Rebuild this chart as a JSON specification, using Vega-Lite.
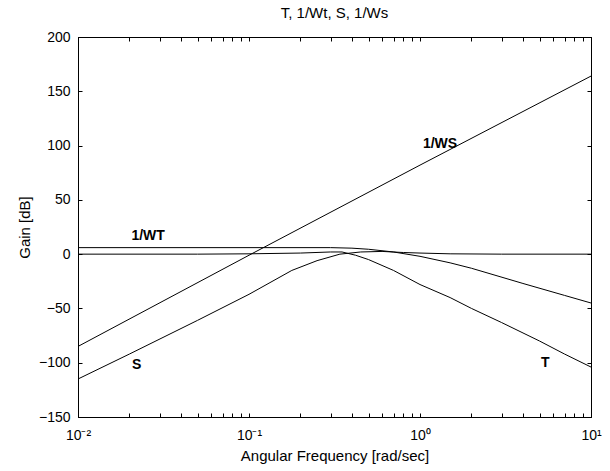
{
  "$schema": "https://vega.github.io/schema/vega-lite/v6.json",
  "width": 513,
  "height": 380,
  "autosize": {"type": "none"},
  "padding": {"left": 78, "top": 37, "right": 19, "bottom": 54},
  "background": "white",
  "config": {
    "font": "Liberation Sans",
    "view": {"stroke": "black", "strokeWidth": 1},
    "axis": {"labelFont": "Liberation Sans", "titleFont": "Liberation Sans", "labelColor": "black", "titleColor": "black", "domainColor": "black", "tickColor": "black", "grid": false, "labelFontSize": 14, "titleFontSize": 15, "titleFontWeight": "normal"}
  },
  "title": {"text": "T, 1/Wt, S, 1/Ws", "fontSize": 15, "fontWeight": "normal", "offset": 9, "anchor": "middle", "color": "black", "font": "Liberation Sans"},
  "datasets": {
    "curves": [
      {"series": "1/WS", "w": 0.01, "gain": -85},
      {"series": "1/WS", "w": 0.1, "gain": -1},
      {"series": "1/WS", "w": 1, "gain": 82},
      {"series": "1/WS", "w": 10, "gain": 164},

      {"series": "1/WT", "w": 0.01, "gain": 6},
      {"series": "1/WT", "w": 0.1, "gain": 6},
      {"series": "1/WT", "w": 0.3, "gain": 6},
      {"series": "1/WT", "w": 0.4, "gain": 5.5},
      {"series": "1/WT", "w": 0.5, "gain": 4.5},
      {"series": "1/WT", "w": 0.7, "gain": 2},
      {"series": "1/WT", "w": 1, "gain": -2},
      {"series": "1/WT", "w": 1.5, "gain": -8},
      {"series": "1/WT", "w": 2, "gain": -13},
      {"series": "1/WT", "w": 4, "gain": -27},
      {"series": "1/WT", "w": 7, "gain": -38},
      {"series": "1/WT", "w": 10, "gain": -45},

      {"series": "T", "w": 0.01, "gain": 0},
      {"series": "T", "w": 0.05, "gain": 0},
      {"series": "T", "w": 0.1, "gain": 0.3},
      {"series": "T", "w": 0.2, "gain": 1},
      {"series": "T", "w": 0.3, "gain": 2},
      {"series": "T", "w": 0.35, "gain": 2},
      {"series": "T", "w": 0.42, "gain": -1},
      {"series": "T", "w": 0.5, "gain": -5},
      {"series": "T", "w": 0.7, "gain": -15},
      {"series": "T", "w": 1, "gain": -28},
      {"series": "T", "w": 1.5, "gain": -40},
      {"series": "T", "w": 2, "gain": -50},
      {"series": "T", "w": 3, "gain": -63},
      {"series": "T", "w": 5, "gain": -80},
      {"series": "T", "w": 7, "gain": -92},
      {"series": "T", "w": 10, "gain": -104},

      {"series": "S", "w": 0.01, "gain": -115},
      {"series": "S", "w": 0.02, "gain": -92},
      {"series": "S", "w": 0.05, "gain": -61},
      {"series": "S", "w": 0.1, "gain": -37},
      {"series": "S", "w": 0.178, "gain": -15},
      {"series": "S", "w": 0.25, "gain": -6},
      {"series": "S", "w": 0.34, "gain": 0},
      {"series": "S", "w": 0.45, "gain": 2},
      {"series": "S", "w": 0.6, "gain": 2.5},
      {"series": "S", "w": 0.8, "gain": 1.5},
      {"series": "S", "w": 1, "gain": 1},
      {"series": "S", "w": 1.5, "gain": 0.3},
      {"series": "S", "w": 3, "gain": 0},
      {"series": "S", "w": 10, "gain": 0}
    ],
    "labels": [
      {"label": "1/WT", "w": 0.0257, "gain": 17},
      {"label": "1/WS", "w": 1.31, "gain": 101},
      {"label": "S", "w": 0.022, "gain": -102},
      {"label": "T", "w": 5.4, "gain": -100}
    ]
  },
  "layer": [
    {
      "data": {"name": "curves"},
      "mark": {"type": "line", "color": "black", "strokeWidth": 1, "clip": true},
      "encoding": {
        "x": {
          "field": "w", "type": "quantitative",
          "scale": {"type": "log", "domain": [0.01, 10], "nice": false},
          "axis": {
            "title": "Angular Frequency [rad/sec]",
            "values": [0.01,0.02,0.03,0.04,0.05,0.06,0.07,0.08,0.09,0.1,0.2,0.3,0.4,0.5,0.6,0.7,0.8,0.9,1,2,3,4,5,6,7,8,9,10],
            "labelExpr": "datum.value == 0.01 ? '10⁻²' : datum.value == 0.1 ? '10⁻¹' : datum.value == 1 ? '10⁰' : datum.value == 10 ? '10¹' : ''",
            "labelOverlap": false,
            "labelFlush": false,
            "tickSize": -4,
            "labelPadding": 15,
            "titlePadding": 6
          }
        },
        "y": {
          "field": "gain", "type": "quantitative",
          "scale": {"domain": [-150, 200], "nice": false, "zero": false},
          "axis": {
            "title": "Gain [dB]",
            "titleColor": "black",
            "values": [-150,-100,-50,0,50,100,150,200],
            "tickSize": -4,
            "labelPadding": 12,
            "titlePadding": 6
          }
        },
        "detail": {"field": "series"}
      }
    },
    {
      "data": {"name": "labels"},
      "mark": {"type": "text", "color": "black", "fontSize": 14, "font": "Liberation Sans", "fontWeight": "bold"},
      "encoding": {
        "x": {"field": "w", "type": "quantitative", "axis": {"orient": "top", "labels": false, "title": null, "values": [0.01,0.02,0.03,0.04,0.05,0.06,0.07,0.08,0.09,0.1,0.2,0.3,0.4,0.5,0.6,0.7,0.8,0.9,1,2,3,4,5,6,7,8,9,10], "tickSize": -4, "domain": true}},
        "y": {"field": "gain", "type": "quantitative", "axis": {"orient": "right", "labels": false, "title": null, "values": [-150,-100,-50,0,50,100,150,200], "tickSize": -4}},
        "text": {"field": "label"}
      }
    }
  ],
  "resolve": {"axis": {"x": "independent", "y": "independent"}}
}
